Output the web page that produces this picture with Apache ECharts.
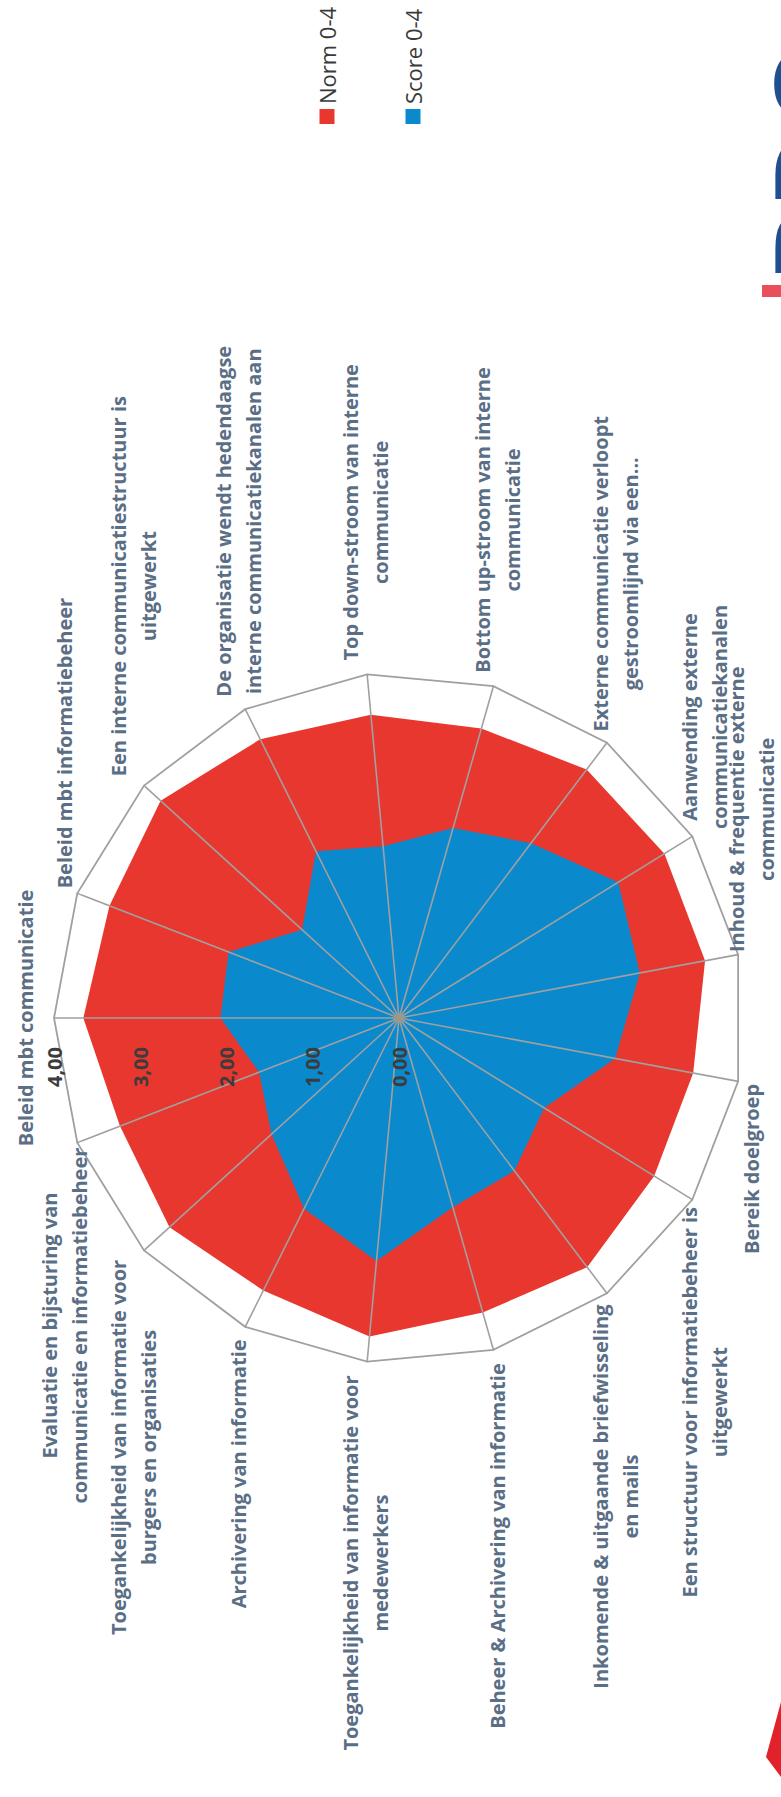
<!DOCTYPE html>
<html>
<head>
<meta charset="utf-8">
<script src="https://cdn.jsdelivr.net/npm/echarts@6/dist/echarts.min.js"></script>
<style>
html, body { margin: 0; padding: 0; background: #fff; overflow: hidden; }
#page { position: absolute; left: 0; top: 0; width: 781px; height: 1797px; overflow: hidden; }
/* the scanned chart lies on its side: draw it landscape, then turn it a quarter */
#chart { position: absolute; left: 0; top: 0; width: 1797px; height: 781px;
  transform-origin: 0 0; transform: translate(0, 1797px) rotate(-90deg); }
</style>
</head>
<body>
<div id="page"><div id="chart"></div></div>
<script>
// axes, clockwise from the top (as Excel draws them)
var categories = [
  'Beleid mbt communicatie',
  'Beleid mbt informatiebeheer',
  'Een interne communicatiestructuur is\nuitgewerkt',
  'De organisatie wendt hedendaagse\ninterne communicatiekanalen aan',
  'Top down-stroom van interne\ncommunicatie',
  'Bottom up-stroom van interne\ncommunicatie',
  'Externe communicatie verloopt\ngestroomlijnd via een...',
  'Aanwending externe\ncommunicatiekanalen',
  'Inhoud & frequentie externe\ncommunicatie',
  'Bereik doelgroep',
  'Een structuur voor informatiebeheer is\nuitgewerkt',
  'Inkomende & uitgaande briefwisseling\nen mails',
  'Beheer & Archivering van informatie',
  'Toegankelijkheid van informatie voor\nmedewerkers',
  'Archivering van informatie',
  'Toegankelijkheid van informatie voor\nburgers en organisaties',
  'Evaluatie en bijsturing van\ncommunicatie en informatiebeheer'
];
var normValues  = [3.66, 3.60, 3.74, 3.61, 3.53, 3.49, 3.61, 3.62, 3.61, 3.47, 3.48, 3.62, 3.55, 3.71, 3.53, 3.60, 3.47];
var scoreValues = [2.07, 2.12, 1.52, 2.16, 2.00, 2.29, 2.54, 2.99, 2.84, 2.55, 1.98, 2.22, 2.28, 2.83, 2.47, 2.00, 1.74];
var tickLabels = ['0,00', '1,00', '2,00', '3,00', '4,00'];
var seriesNames = ['Norm 0-4', 'Score 0-4'];

var RED = '#e8372f';
var BLUE = '#0a89cc';
var FONT = 'Open Sans';

var chart = echarts.init(document.getElementById('chart'), null, { renderer: 'svg' });

// echarts lays radar axes out counter-clockwise, so walk the list backwards
var n = categories.length;
var order = [0];
for (var i = n - 1; i >= 1; i--) order.push(i);
function pick(arr) { return order.map(function (k) { return arr[k]; }); }

var indicator = order.map(function (k, j) {
  return { name: categories[k], min: 0, max: 4, axisLabel: { show: j === 0 } };
});

var grey = '#a0a0a0';
var clear = 'rgba(0,0,0,0)';

chart.setOption({
  backgroundColor: '#fff',
  legend: {
    orient: 'vertical',
    left: 1668, top: 311,
    itemGap: 64, itemWidth: 15, itemHeight: 15,
    icon: 'rect',
    textStyle: { fontFamily: FONT, fontSize: 22, color: '#3a3a3a' },
    data: seriesNames
  },
  radar: {
    center: [779, 399],
    radius: 345,
    startAngle: 90,
    splitNumber: 4,
    shape: 'polygon',
    z: 3,
    nameGap: 14,
    axisName: {
      fontFamily: FONT, fontSize: 20, fontWeight: 'bold', color: '#5a6e86',
      formatter: function (v) {
        return v.split('\n').map(function (s) { return '{c|' + s + '}'; }).join('\n');
      },
      rich: {
        c: { align: 'center', fontFamily: FONT, fontSize: 20, fontWeight: 'bold', color: '#5a6e86', lineHeight: 30 }
      }
    },
    axisLine: { lineStyle: { color: grey, width: 1.6 } },
    axisTick: { show: false },
    splitLine: { lineStyle: { color: [clear, clear, clear, clear, grey], width: 1.8 } },
    splitArea: { show: false },
    axisLabel: {
      show: false, margin: 29,
      fontFamily: FONT, fontSize: 20, fontWeight: 'bold', color: '#3c3c3c',
      formatter: function (v) { return tickLabels[Math.round(v)]; }
    },
    indicator: indicator
  },
  series: [{
    type: 'radar',
    symbol: 'none',
    data: [
      {
        name: seriesNames[0], value: pick(normValues),
        itemStyle: { color: RED }, lineStyle: { width: 0 },
        areaStyle: { color: RED, opacity: 1 }
      },
      {
        name: seriesNames[1], value: pick(scoreValues),
        itemStyle: { color: BLUE }, lineStyle: { width: 0 },
        areaStyle: { color: BLUE, opacity: 1 }
      }
    ]
  }],
  graphic: [
    { type: 'circle', shape: { cx: 779, cy: 399, r: 5 }, style: { fill: '#9a9a8a' }, z: 10 },
    // the logo, mostly off the page edge
    { type: 'text', x: 1514, y: 756, style: { text: 'BDO', fontFamily: FONT, fontWeight: 'bold', fontSize: 110, fill: '#1d4f91', verticalAlign: 'top' } },
    { type: 'rect', shape: { x: 1500, y: 762, width: 12, height: 20 }, style: { fill: '#e8505b' } },
    { type: 'polygon', shape: { points: [[20, 781], [95, 781], [40, 766]] }, style: { fill: '#e2222a' } }
  ]
});
</script>
</body>
</html>
